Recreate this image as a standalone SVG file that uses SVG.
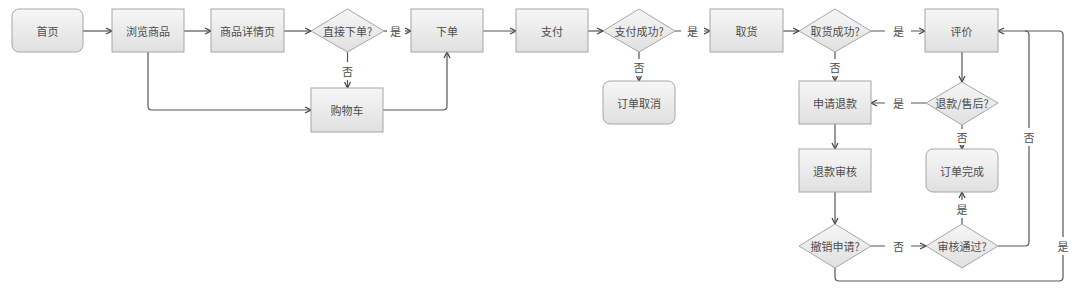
<svg xmlns="http://www.w3.org/2000/svg" width="1080" height="296" viewBox="0 0 1080 296">
<defs>
<linearGradient id="g" x1="0" y1="0" x2="0" y2="1">
<stop offset="0" stop-color="#f6f6f6"/>
<stop offset="1" stop-color="#e0e0e0"/>
</linearGradient>
<marker id="a" viewBox="0 0 8 8" refX="7" refY="4" markerWidth="8" markerHeight="8" markerUnits="userSpaceOnUse" orient="auto">
<path d="M1,1 L7,4 L1,7" fill="none" stroke="#444" stroke-width="1.2"/>
</marker>
<style>
.n{fill:url(#g);stroke:#a6a6a6;stroke-width:1}
.t{font-family:"Noto Sans CJK SC","Noto Sans",sans-serif;font-size:11px;fill:#4d4d4d;text-anchor:middle;dominant-baseline:central}
.c{fill:none;stroke:#555;stroke-width:1.2;marker-end:url(#a)}
.l{fill:none;stroke:#555;stroke-width:1.2}
.lb{fill:#fff}
</style>
</defs>
<rect width="1080" height="296" fill="#fff"/>
<g id="connectors">
<path class="c" d="M83,31 H112"/>
<path class="c" d="M184,31 H211"/>
<path class="c" d="M284,31 H311"/>
<path class="c" d="M384,31 H411"/>
<path class="c" d="M347.5,52 V88"/>
<path class="c" d="M148,52 V106 Q148,110 152,110 H311"/>
<path class="c" d="M383,110 H443 Q447,110 447,106 V52"/>
<path class="c" d="M483,31 H516"/>
<path class="c" d="M588,31 H603"/>
<path class="c" d="M675,31 H710"/>
<path class="c" d="M639,52 V81"/>
<path class="c" d="M783,31 H799"/>
<path class="c" d="M871,31 H925"/>
<path class="c" d="M835,52 V81"/>
<path class="c" d="M962,52 V82"/>
<path class="c" d="M926,103 H871"/>
<path class="c" d="M962,125 V149"/>
<path class="c" d="M835,124 V149"/>
<path class="c" d="M835,192 V224"/>
<path class="c" d="M871,246 H926"/>
<path class="c" d="M962,224 V192"/>
<path class="l" d="M998,246 H1025 Q1029,246 1029,242 V35 Q1029,31 1025,31"/>
<path class="c" d="M835,268 V277 Q835,281 839,281 H1059 Q1063,281 1063,277 V35 Q1063,31 1059,31 H998"/>
</g>
<g id="labels">
<rect class="lb" x="387" y="24" width="18" height="14"/><text class="t" x="395.5" y="31">是</text>
<rect class="lb" x="341" y="62" width="13" height="18"/><text class="t" x="347.5" y="71">否</text>
<rect class="lb" x="681" y="24" width="23" height="14"/><text class="t" x="692.5" y="31">是</text>
<rect class="lb" x="633" y="59" width="13" height="17"/><text class="t" x="639" y="67">否</text>
<rect class="lb" x="885" y="24" width="26" height="14"/><text class="t" x="898.5" y="31">是</text>
<rect class="lb" x="829" y="59" width="13" height="17"/><text class="t" x="835" y="67">否</text>
<rect class="lb" x="885" y="96" width="26" height="14"/><text class="t" x="898.5" y="103">是</text>
<rect class="lb" x="956" y="129" width="13" height="16"/><text class="t" x="962" y="137">否</text>
<rect class="lb" x="1023" y="128" width="13" height="18"/><text class="t" x="1029" y="137">否</text>
<rect class="lb" x="885" y="239" width="26" height="14"/><text class="t" x="898.5" y="246">否</text>
<rect class="lb" x="956" y="200" width="13" height="18"/><text class="t" x="962" y="209">是</text>
<rect class="lb" x="1057" y="237" width="13" height="18"/><text class="t" x="1063" y="246">是</text>
</g>
<g id="n1"><rect class="n" x="12" y="9" width="71" height="43" rx="7"/><text class="t" x="47.5" y="31">首页</text></g>
<g id="n2"><rect class="n" x="112" y="9" width="72" height="43"/><text class="t" x="148" y="31">浏览商品</text></g>
<g id="n3"><rect class="n" x="211" y="9" width="73" height="43"/><text class="t" x="247.5" y="31">商品详情页</text></g>
<g id="n4"><polygon class="n" points="311,31 347.5,9 384,31 347.5,52"/><text class="t" x="347.5" y="31">直接下单?</text></g>
<g id="n5"><rect class="n" x="311" y="88" width="72" height="44"/><text class="t" x="347" y="110">购物车</text></g>
<g id="n6"><rect class="n" x="411" y="9" width="72" height="43"/><text class="t" x="447" y="31">下单</text></g>
<g id="n7"><rect class="n" x="516" y="9" width="72" height="43"/><text class="t" x="552" y="31">支付</text></g>
<g id="n8"><polygon class="n" points="603,31 639,9 675,31 639,52"/><text class="t" x="639" y="31">支付成功?</text></g>
<g id="n9"><rect class="n" x="603" y="81" width="72" height="43" rx="7"/><text class="t" x="639" y="103">订单取消</text></g>
<g id="n10"><rect class="n" x="710" y="9" width="73" height="43"/><text class="t" x="746.5" y="31">取货</text></g>
<g id="n11"><polygon class="n" points="799,31 835,9 871,31 835,52"/><text class="t" x="835" y="31">取货成功?</text></g>
<g id="n12"><rect class="n" x="925" y="9" width="73" height="43"/><text class="t" x="961.5" y="31">评价</text></g>
<g id="n13"><rect class="n" x="799" y="81" width="72" height="43"/><text class="t" x="835" y="103">申请退款</text></g>
<g id="n14"><polygon class="n" points="926,103 962,82 998,103 962,125"/><text class="t" x="962" y="103">退款/售后?</text></g>
<g id="n15"><rect class="n" x="799" y="149" width="72" height="43"/><text class="t" x="835" y="171">退款审核</text></g>
<g id="n16"><rect class="n" x="926" y="149" width="72" height="43" rx="7"/><text class="t" x="962" y="171">订单完成</text></g>
<g id="n17"><polygon class="n" points="799,246 835,224 871,246 835,268"/><text class="t" x="835" y="246">撤销申请?</text></g>
<g id="n18"><polygon class="n" points="926,246 962,224 998,246 962,268"/><text class="t" x="962" y="246">审核通过?</text></g>
</svg>
